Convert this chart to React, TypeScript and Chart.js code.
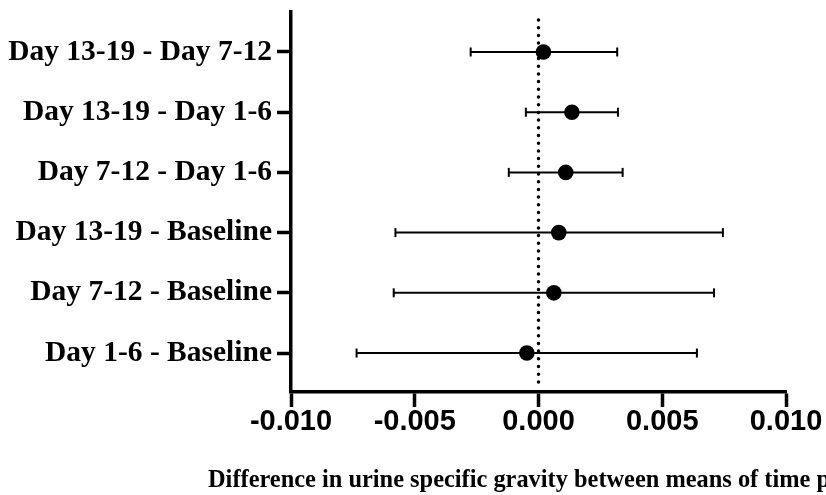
import React, { useEffect, useRef } from "react";
import { Chart, registerables } from "chart.js";

Chart.register(...registerables);

// Pairwise comparisons (top to bottom) with mean difference and 95% CI
const comparisons = [
  "Day 13-19 - Day 7-12",
  "Day 13-19 - Day 1-6",
  "Day 7-12 - Day 1-6",
  "Day 13-19 - Baseline",
  "Day 7-12 - Baseline",
  "Day 1-6 - Baseline",
];
const meanDiff = [0.0002, 0.00135, 0.0011, 0.00082, 0.00062, -0.00047];
const ciLower = [-0.00274, -0.00051, -0.0012, -0.00578, -0.00585, -0.00735];
const ciUpper = [0.00318, 0.00321, 0.0034, 0.00745, 0.00709, 0.0064];
const xTicks = [-0.01, -0.005, 0, 0.005, 0.01];
const xAxisTitle =
  "Difference in urine specific gravity between means of time periods";

const zeroLinePlugin = {
  id: "zeroLine",
  beforeDatasetsDraw(chart: any) {
    const { ctx, chartArea, scales } = chart;
    const x = scales.x.getPixelForValue(0);
    ctx.save();
    ctx.strokeStyle = "#000";
    ctx.lineWidth = 3.5;
    ctx.lineCap = "round";
    ctx.setLineDash([0, 7.7]);
    ctx.beginPath();
    ctx.moveTo(x, chartArea.top + 8);
    ctx.lineTo(x, chartArea.bottom - 4);
    ctx.stroke();
    ctx.restore();
  },
};

const axisTitlePlugin = {
  id: "axisTitle",
  afterDraw(chart: any) {
    const { ctx } = chart;
    ctx.save();
    ctx.fillStyle = "#000";
    ctx.font = 'bold 24.4px "Liberation Serif", "Times New Roman", serif';
    ctx.textAlign = "left";
    ctx.textBaseline = "alphabetic";
    ctx.fillText(xAxisTitle, 208, 487);
    ctx.restore();
  },
};

export default function App() {
  const canvasRef = useRef<HTMLCanvasElement | null>(null);

  useEffect(() => {
    const canvas = canvasRef.current;
    if (!canvas) return;

    const errorBars = comparisons.map((_, i) => ({
      type: "line" as const,
      data: [
        { x: ciLower[i], y: i },
        { x: ciUpper[i], y: i },
      ],
      borderColor: "#000",
      borderWidth: 2,
      pointStyle: "line" as const,
      pointRotation: 90,
      pointRadius: 4.5,
      pointBorderWidth: 2,
      pointBorderColor: "#000",
      pointBackgroundColor: "#000",
      order: 2,
    }));

    const means = {
      type: "scatter" as const,
      data: comparisons.map((_, i) => ({ x: meanDiff[i], y: i })),
      pointRadius: 7.8,
      pointBackgroundColor: "#000",
      pointBorderColor: "#000",
      pointBorderWidth: 0,
      order: 1,
    };

    const chart = new Chart(canvas, {
      type: "scatter",
      data: { datasets: [...errorBars, means] as any },
      options: {
        responsive: false,
        animation: false,
        events: [],
        layout: { padding: { top: 12, right: 40, left: 0, bottom: 0 } },
        plugins: {
          legend: { display: false },
          tooltip: { enabled: false },
          title: { display: false },
        },
        scales: {
          x: {
            type: "linear",
            min: -0.01,
            max: 0.01,
            afterBuildTicks: (s: any) => {
              s.ticks = xTicks.map((v) => ({ value: v }));
            },
            afterFit: (s: any) => {
              s.height = 103;
              s.paddingLeft = 0;
              s.paddingRight = 0;
            },
            ticks: {
              autoSkip: false,
              maxRotation: 0,
              color: "#000",
              padding: 0,
              font: {
                family: '"Liberation Sans", Arial, sans-serif',
                weight: "bold",
                size: 29,
                lineHeight: 1,
              },
              callback: (v: any) => Number(v).toFixed(3),
            },
            grid: {
              drawOnChartArea: false,
              drawTicks: true,
              tickLength: 15,
              tickWidth: 3.5,
              tickColor: "#000",
            },
            border: { display: true, color: "#000", width: 3.5 },
          },
          y: {
            type: "linear",
            reverse: true,
            min: -0.664,
            max: 5.647,
            afterBuildTicks: (s: any) => {
              s.ticks = comparisons.map((_, i) => ({ value: i }));
            },
            afterFit: (s: any) => {
              s.width = 291;
              s.paddingTop = 0;
              s.paddingBottom = 0;
            },
            ticks: {
              autoSkip: false,
              color: "#000",
              padding: 5,
              font: {
                family: '"Liberation Serif", "Times New Roman", serif',
                weight: "bold",
                size: 29.5,
              },
              callback: (v: any) => comparisons[Math.round(Number(v))],
            },
            grid: {
              drawOnChartArea: false,
              drawTicks: true,
              tickLength: 14,
              tickWidth: 3.5,
              tickColor: "#000",
            },
            border: { display: true, color: "#000", width: 3.5 },
          },
        },
      },
      plugins: [zeroLinePlugin, axisTitlePlugin],
    });

    return () => chart.destroy();
  }, []);

  return (
    <div
      style={{
        position: "fixed",
        left: 0,
        top: 0,
        width: 826,
        height: 495,
        background: "#fff",
      }}
    >
      <canvas ref={canvasRef} width={826} height={495} />
    </div>
  );
}
